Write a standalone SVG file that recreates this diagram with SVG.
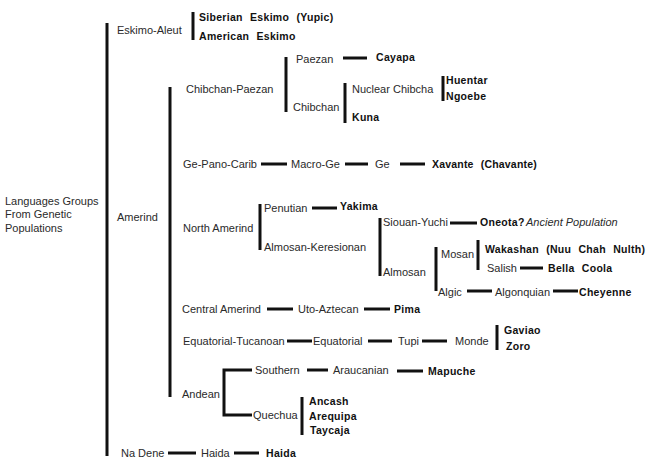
<svg xmlns="http://www.w3.org/2000/svg" width="646" height="459" viewBox="0 0 646 459">
<style>
.t{font-family:"Liberation Sans",Arial,sans-serif;font-size:11px;fill:#2a2a2a}
.b{font-family:"Liberation Sans",Arial,sans-serif;font-size:10.5px;font-weight:bold;fill:#111;letter-spacing:0.3px;word-spacing:4px}
.i{font-family:"Liberation Sans",Arial,sans-serif;font-size:11px;font-style:italic;fill:#2a2a2a}
.c line,.c path{stroke:#111;stroke-width:3;fill:none}
</style>
<rect width="646" height="459" fill="#fff"/>
<g id="connectors" class="c">
<line x1="107" y1="23" x2="107" y2="456"/>
<line x1="193" y1="12" x2="193" y2="40"/>
<line x1="170" y1="87" x2="170" y2="397"/>
<line x1="286" y1="57" x2="286" y2="112"/>
<line x1="343" y1="58" x2="367" y2="58"/>
<line x1="345" y1="83" x2="345" y2="123"/>
<line x1="443" y1="76" x2="443" y2="101"/>
<line x1="261" y1="164" x2="287" y2="164"/>
<line x1="345" y1="164" x2="368" y2="164"/>
<line x1="400" y1="164" x2="425" y2="164"/>
<line x1="260" y1="204" x2="260" y2="250"/>
<line x1="312" y1="208" x2="337" y2="208"/>
<line x1="380" y1="218" x2="380" y2="276"/>
<line x1="450" y1="223" x2="477" y2="223"/>
<line x1="436" y1="247" x2="436" y2="291"/>
<line x1="478" y1="240" x2="478" y2="270"/>
<line x1="520" y1="268" x2="543" y2="268"/>
<line x1="467" y1="291" x2="492" y2="291"/>
<line x1="553" y1="291" x2="578" y2="291"/>
<line x1="267" y1="309" x2="293" y2="309"/>
<line x1="364" y1="309" x2="390" y2="309"/>
<line x1="287" y1="341" x2="312" y2="341"/>
<line x1="368" y1="341" x2="392" y2="341"/>
<line x1="422" y1="341" x2="447" y2="341"/>
<line x1="497" y1="325" x2="497" y2="350"/>
<path d="M252 370 H224 V415 H252"/>
<line x1="307" y1="370" x2="328" y2="370"/>
<line x1="397" y1="371" x2="423" y2="371"/>
<line x1="302" y1="397" x2="302" y2="435"/>
<line x1="168" y1="453" x2="196" y2="453"/>
<line x1="234" y1="453" x2="259" y2="453"/>
</g>
<g id="root"><text class="t" x="5" y="205">Languages Groups</text><text class="t" x="5" y="218">From Genetic</text><text class="t" x="5" y="232">Populations</text></g>
<g id="eskimo-aleut"><text class="t" x="117" y="34">Eskimo-Aleut</text></g>
<g id="siberian-eskimo"><text class="b" x="199" y="21">Siberian Eskimo (Yupic)</text></g>
<g id="american-eskimo"><text class="b" x="199" y="40">American Eskimo</text></g>
<g id="amerind"><text class="t" x="117" y="221">Amerind</text></g>
<g id="chibchan-paezan"><text class="t" x="186" y="93">Chibchan-Paezan</text></g>
<g id="paezan"><text class="t" x="296" y="63">Paezan</text></g>
<g id="cayapa"><text class="b" x="376" y="61">Cayapa</text></g>
<g id="chibchan"><text class="t" x="293" y="111">Chibchan</text></g>
<g id="nuclear-chibcha"><text class="t" x="352" y="93">Nuclear Chibcha</text></g>
<g id="huentar"><text class="b" x="446" y="84">Huentar</text></g>
<g id="ngoebe"><text class="b" x="446" y="100">Ngoebe</text></g>
<g id="kuna"><text class="b" x="352" y="121">Kuna</text></g>
<g id="ge-pano-carib"><text class="t" x="183" y="168">Ge-Pano-Carib</text></g>
<g id="macro-ge"><text class="t" x="291" y="168">Macro-Ge</text></g>
<g id="ge"><text class="t" x="375" y="168">Ge</text></g>
<g id="xavante"><text class="b" x="432" y="168" textLength="105" lengthAdjust="spacing">Xavante (Chavante)</text></g>
<g id="north-amerind"><text class="t" x="183" y="232">North Amerind</text></g>
<g id="penutian"><text class="t" x="264" y="212">Penutian</text></g>
<g id="yakima"><text class="b" x="340" y="210">Yakima</text></g>
<g id="almosan-keresionan"><text class="t" x="264" y="251">Almosan-Keresionan</text></g>
<g id="siouan-yuchi"><text class="t" x="383" y="226">Siouan-Yuchi</text></g>
<g id="oneota"><text class="b" x="480" y="226">Oneota?</text><text class="i" x="526" y="226">Ancient Population</text></g>
<g id="almosan"><text class="t" x="383" y="276">Almosan</text></g>
<g id="mosan"><text class="t" x="441" y="258">Mosan</text></g>
<g id="wakashan"><text class="b" x="485" y="253">Wakashan (Nuu Chah Nulth)</text></g>
<g id="salish"><text class="t" x="487" y="272">Salish</text></g>
<g id="bella-coola"><text class="b" x="548" y="272">Bella Coola</text></g>
<g id="algic"><text class="t" x="438" y="296">Algic</text></g>
<g id="algonquian"><text class="t" x="495" y="296">Algonquian</text></g>
<g id="cheyenne"><text class="b" x="579" y="296">Cheyenne</text></g>
<g id="central-amerind"><text class="t" x="182" y="313">Central Amerind</text></g>
<g id="uto-aztecan"><text class="t" x="298" y="313">Uto-Aztecan</text></g>
<g id="pima"><text class="b" x="394" y="313">Pima</text></g>
<g id="equatorial-tucanoan"><text class="t" x="183" y="345">Equatorial-Tucanoan</text></g>
<g id="equatorial"><text class="t" x="313" y="345">Equatorial</text></g>
<g id="tupi"><text class="t" x="398" y="345">Tupi</text></g>
<g id="monde"><text class="t" x="455" y="345">Monde</text></g>
<g id="gaviao"><text class="b" x="504" y="334">Gaviao</text></g>
<g id="zoro"><text class="b" x="506" y="350">Zoro</text></g>
<g id="andean"><text class="t" x="182" y="398">Andean</text></g>
<g id="southern"><text class="t" x="255" y="374">Southern</text></g>
<g id="araucanian"><text class="t" x="333" y="374">Araucanian</text></g>
<g id="mapuche"><text class="b" x="428" y="375">Mapuche</text></g>
<g id="quechua"><text class="t" x="253" y="419">Quechua</text></g>
<g id="ancash"><text class="b" x="309" y="405">Ancash</text></g>
<g id="arequipa"><text class="b" x="309" y="420">Arequipa</text></g>
<g id="taycaja"><text class="b" x="310" y="434">Taycaja</text></g>
<g id="na-dene"><text class="t" x="121" y="457">Na Dene</text></g>
<g id="haida-group"><text class="t" x="201" y="457">Haida</text></g>
<g id="haida"><text class="b" x="266" y="457">Haida</text></g>
</svg>
